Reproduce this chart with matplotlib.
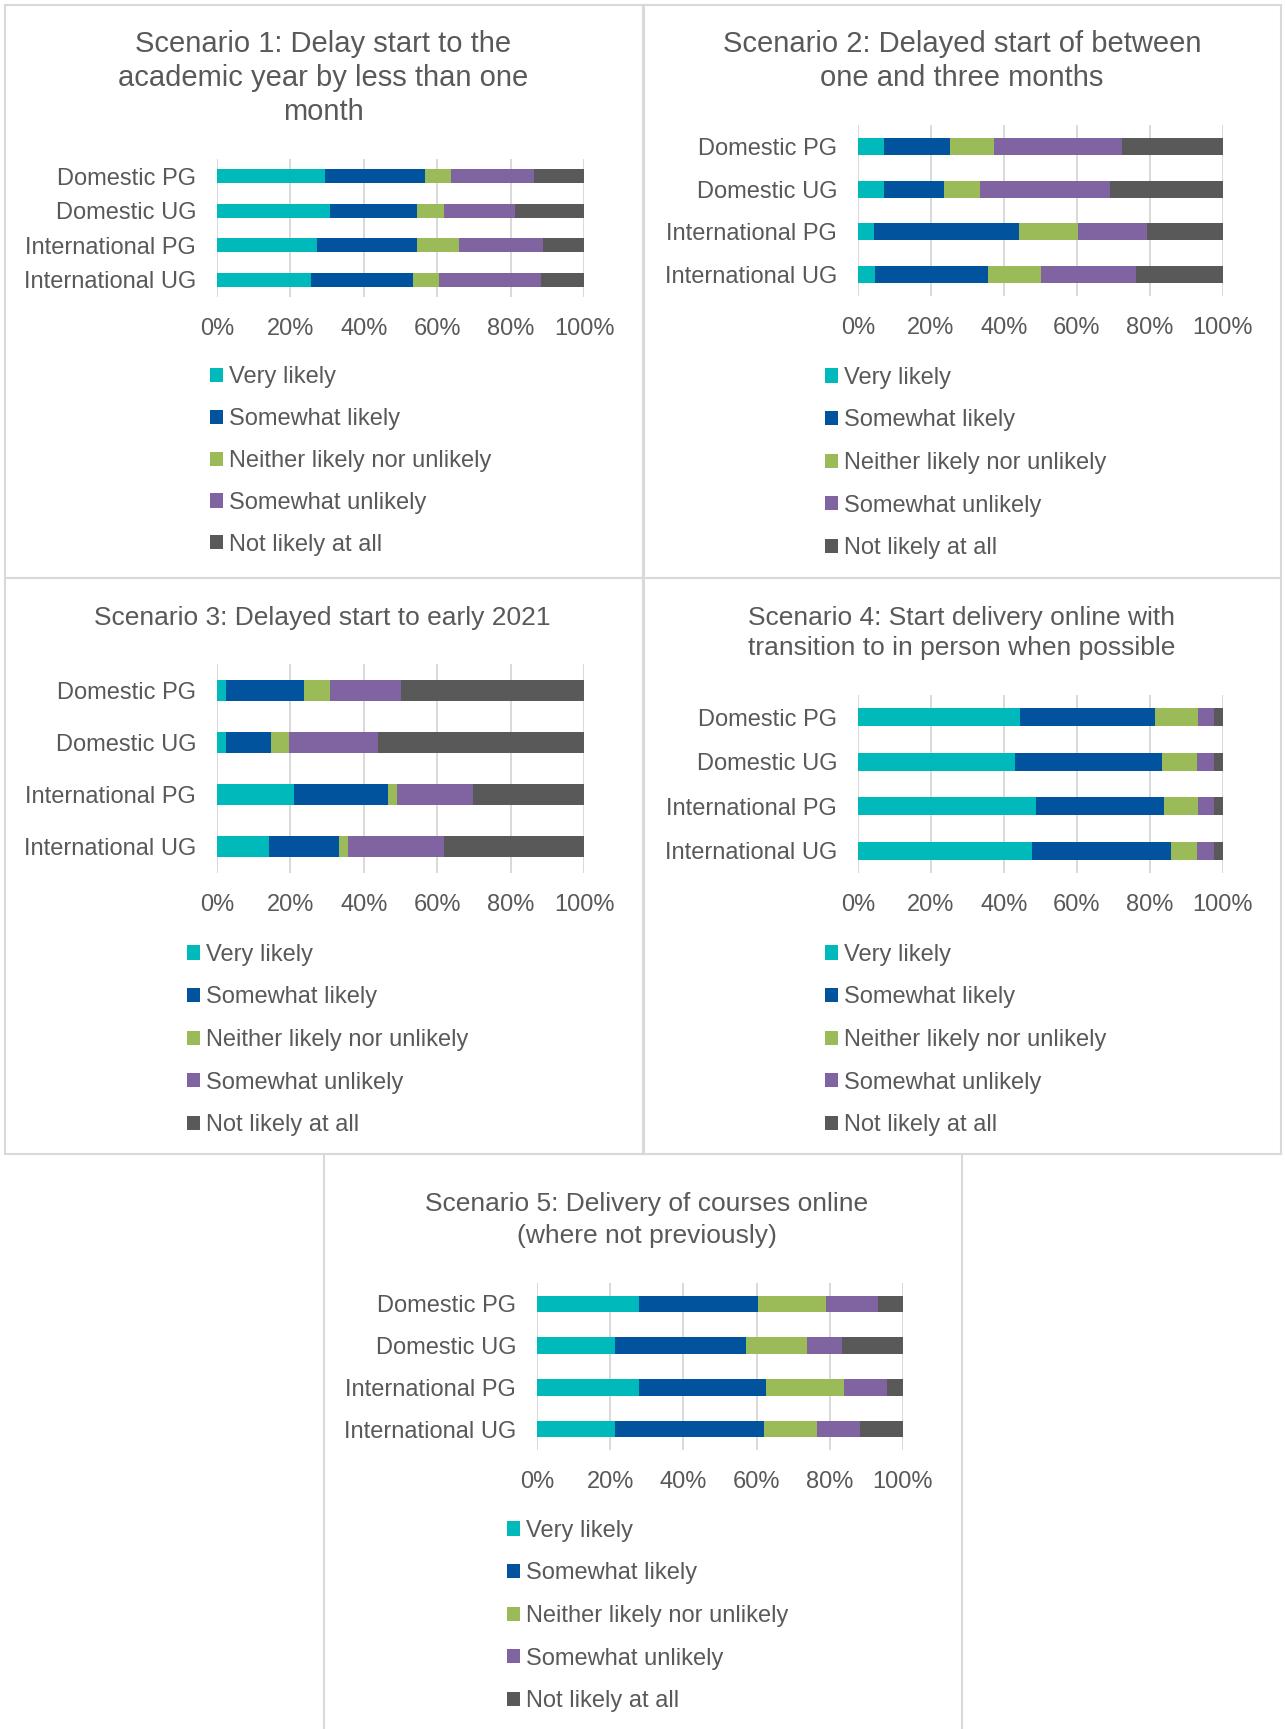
import matplotlib
matplotlib.use("Agg")
import matplotlib.pyplot as plt
from matplotlib.patches import Rectangle
from matplotlib.ticker import PercentFormatter

plt.rcParams['font.family'] = ['Liberation Sans', 'DejaVu Sans']

# Groups (top to bottom) and answer categories
groups = ['Domestic PG', 'Domestic UG', 'International PG', 'International UG']
responses = ['Very likely', 'Somewhat likely', 'Neither likely nor unlikely',
             'Somewhat unlikely', 'Not likely at all']
colors = ['#00B9BA', '#00539C', '#9BBB59', '#8064A2', '#595959']

titles = ['Scenario 1: Delay start to the\nacademic year by less than one\nmonth',
          'Scenario 2: Delayed start of between\none and three months',
          'Scenario 3: Delayed start to early 2021',
          'Scenario 4: Start delivery online with\ntransition to in person when possible',
          'Scenario 5: Delivery of courses online\n(where not previously)']

# Percent shares, one list per response, values in group order
s1 = [[29.5, 30.8, 27.2, 25.5],
      [27.2, 23.8, 27.3, 27.9],
      [7.0, 7.3, 11.5, 7.0],
      [22.7, 19.2, 22.7, 27.9],
      [13.6, 18.9, 11.3, 11.7]]
s2 = [[7.0, 7.1, 4.5, 4.7],
      [18.3, 16.5, 39.5, 31.0],
      [12.0, 9.8, 16.4, 14.3],
      [34.9, 35.7, 18.7, 26.2],
      [27.8, 30.9, 20.9, 23.8]]
s3 = [[2.5, 2.5, 20.9, 14.3],
      [21.1, 12.1, 25.6, 19.0],
      [7.2, 4.9, 2.5, 2.5],
      [19.2, 24.3, 20.7, 26.1],
      [50.0, 56.2, 30.3, 38.1]]
s4 = [[44.3, 42.9, 48.9, 47.6],
      [37.0, 40.4, 34.9, 38.1],
      [11.8, 9.6, 9.3, 7.2],
      [4.5, 4.7, 4.5, 4.7],
      [2.4, 2.4, 2.4, 2.4]]
s5 = [[28.0, 21.4, 28.0, 21.4],
      [32.4, 35.7, 34.7, 40.5],
      [18.6, 16.8, 21.1, 14.5],
      [14.2, 9.5, 11.7, 11.9],
      [6.8, 16.6, 4.5, 11.7]]
scenarios = [s1, s2, s3, s4, s5]

W, H = 1285, 1729
TXT = '#595959'
GRID = '#D9D9D9'

fig = plt.figure(figsize=(W / 100, H / 100), dpi=100)

# layout in pixels: panel box, axes box, title centre, legend left / middle row
panels = [(5, 5, 643, 578), (644, 5, 1281, 578),
          (5, 578, 643, 1154), (644, 578, 1281, 1154),
          (324, 1154, 962, 1735)]
axes_px = [(217, 159, 584, 297), (858, 125, 1223, 296),
           (217, 664, 584, 873), (858, 695, 1223, 873),
           (537, 1283, 903, 1450)]
title_px = [(323, 78), (962, 61), (322, 618), (962, 633), (647, 1220)]
title_fs = [21, 21, 19, 19, 19]
title_ls = [1.29, 1.29, 1.3, 1.3, 1.38]
legend_px = [(210, 461), (825, 463), (187, 1040), (825, 1040), (507, 1616)]
legend_sp = [0.84, 0.87, 0.87, 0.87, 0.87]

for i in range(5):
    x0, y0, x1, y1 = panels[i]
    fig.patches.append(Rectangle((x0 / W, 1 - y1 / H), (x1 - x0) / W, (y1 - y0) / H,
                                 transform=fig.transFigure, fill=False,
                                 edgecolor=GRID, linewidth=1.5))

    ax0, ay0, ax1, ay1 = axes_px[i]
    ax = fig.add_axes([ax0 / W, 1 - ay1 / H, (ax1 - ax0) / W, (ay1 - ay0) / H])
    data = scenarios[i]
    totals = [sum(col) for col in zip(*data)]
    left = [0.0] * len(groups)
    handles = []
    for r, vals in enumerate(data):
        share = [v / t * 100 for v, t in zip(vals, totals)]
        b = ax.barh(range(len(groups)), share, left=left, height=0.4,
                    color=colors[r], label=responses[r], zorder=3)
        handles.append(b)
        left = [l + s for l, s in zip(left, share)]

    ax.set_xlim(0, 100)
    ax.set_ylim(3.5, -0.5)
    ax.set_xticks(range(0, 101, 20))
    ax.xaxis.set_major_formatter(PercentFormatter(100, decimals=0))
    ax.set_yticks(range(len(groups)))
    ax.set_yticklabels(groups)
    ax.tick_params(axis='both', length=0, labelsize=17, labelcolor=TXT)
    ax.tick_params(axis='x', pad=15)
    ax.tick_params(axis='y', pad=15)
    ax.grid(axis='x', color=GRID, linewidth=1.4, zorder=0)
    for sp in ax.spines.values():
        sp.set_visible(False)
    ax.set_facecolor('none')

    tx, ty = title_px[i]
    fig.text(tx / W, 1 - ty / H, titles[i], ha='center', va='center',
             fontsize=title_fs[i], color=TXT, linespacing=title_ls[i])

    lx, ly = legend_px[i]
    leg = ax.legend(handles=handles, loc='center left',
                    bbox_to_anchor=(lx / W, 1 - ly / H),
                    bbox_transform=fig.transFigure, frameon=False,
                    fontsize=17, handlelength=0.55, handleheight=0.55,
                    handletextpad=0.25, labelspacing=legend_sp[i], borderpad=0,
                    borderaxespad=0)
    for t in leg.get_texts():
        t.set_color(TXT)

fig.savefig('out.png', dpi=100, facecolor='white')
